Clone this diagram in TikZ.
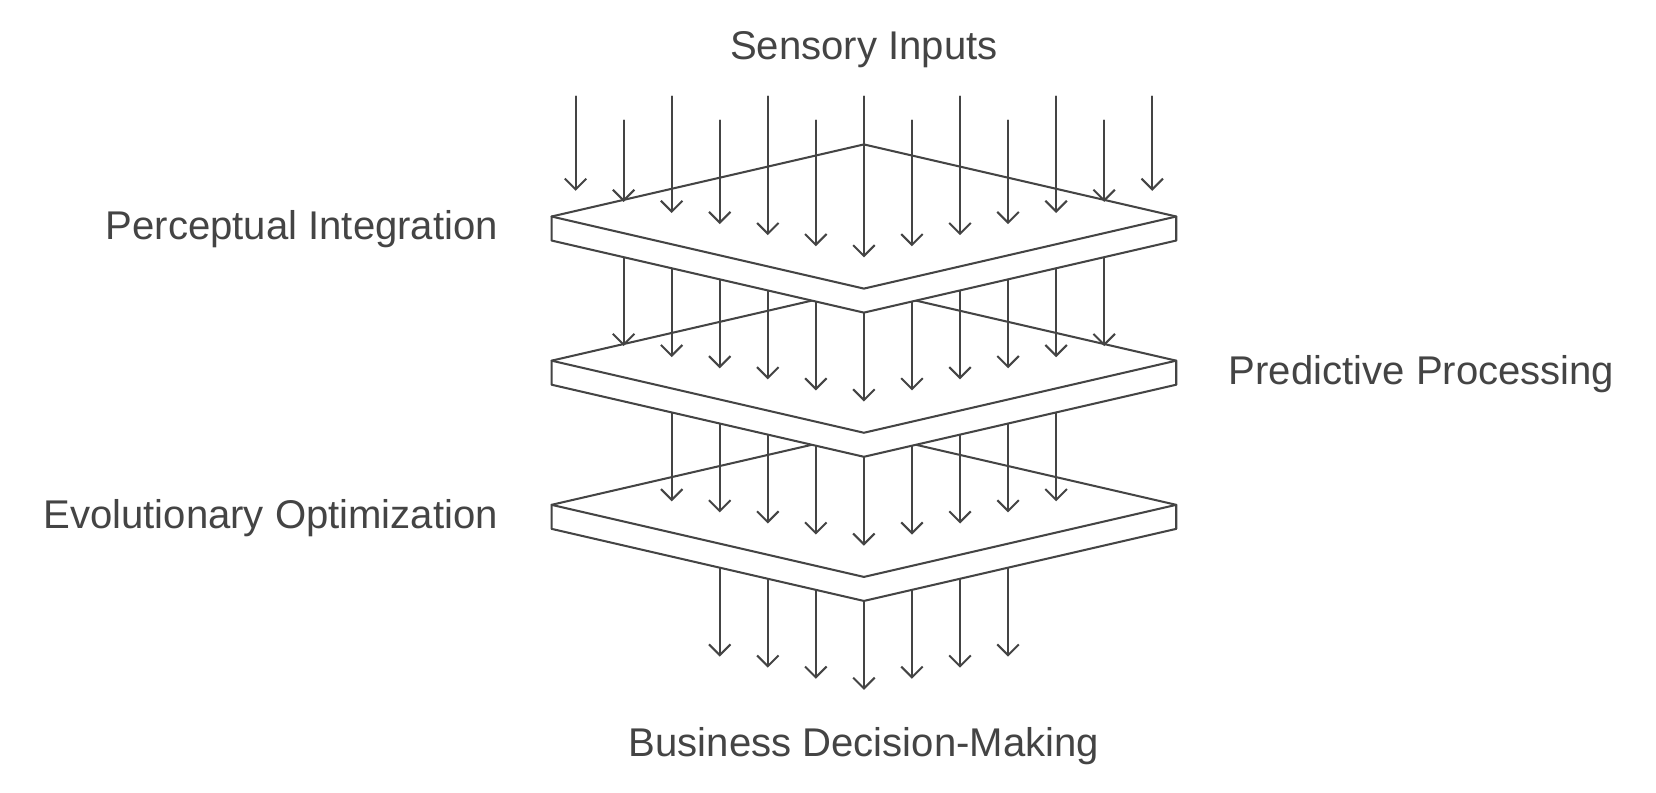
\documentclass[tikz,border=0pt]{standalone}
\usepackage{fontspec}
\setmainfont{Liberation Sans}
\usetikzlibrary{arrows.meta}
\definecolor{ink}{HTML}{444444}

\begin{document}
\begin{tikzpicture}[>={Straight Barb[length=2.9pt,width=5.8pt]},line join=round,line cap=round,x=.455cm,y=.455cm,
	every node/.style={font=\fontsize{10.8}{12}\selectfont,text=ink,inner sep=0pt},
	slab/.style={draw=ink,fill=white,line width=.55pt},
	flow/.style={->,draw=ink,line width=.55pt}]
	\useasboundingbox (-8.18cm,2.05cm) rectangle (7.50cm,-5.45cm);
	
	% layers from the bottom up, each one covering the arrows that leave it
	\foreach \k in {3,2,1}{
		\pgfmathtruncatemacro\last{6-\k}
		\foreach \i in {-\last,...,\last}
			\draw[flow] (\i,{-3*\k+3}) -- (\i,{-3*\k-.85+1.5/6.5*abs(\i)});
		\draw[slab] (-6.5,{-3*\k+3}) -- (0,{-3*\k+4.5}) -- (6.5,{-3*\k+3}) -- ++(0,-.5)
			-- (0,{-3*\k+1}) -- (-6.5,{-3*\k+2.5}) -- cycle;
		\draw[draw=ink,line width=.55pt] (-6.5,{-3*\k+3}) -- (0,{-3*\k+1.5}) -- (6.5,{-3*\k+3});
	}
	
	% sensory inputs onto the top layer
	\foreach \i in {-6,-4,...,6}
		\draw[flow] (\i,2.5) -- (\i,{-.85+1.5/6.5*abs(\i)});
	\foreach \i in {-5,-3,...,5}
		\draw[flow] (\i,2) -- (\i,{-.85+1.5/6.5*abs(\i)});
	
	\node[anchor=base] (inputs) at (0,3.27) {Sensory Inputs};
	\node[anchor=base east] (perceptual) at (-7.6,-.48) {Perceptual Integration};
	\node[anchor=base west] (predictive) at (7.58,-3.49) {Predictive Processing};
	\node[anchor=base east] (evolutionary) at (-7.6,-6.5) {Evolutionary Optimization};
	\node[anchor=base] (decision) at (0,-11.23) {Business Decision-Making};
\end{tikzpicture}
\end{document}
